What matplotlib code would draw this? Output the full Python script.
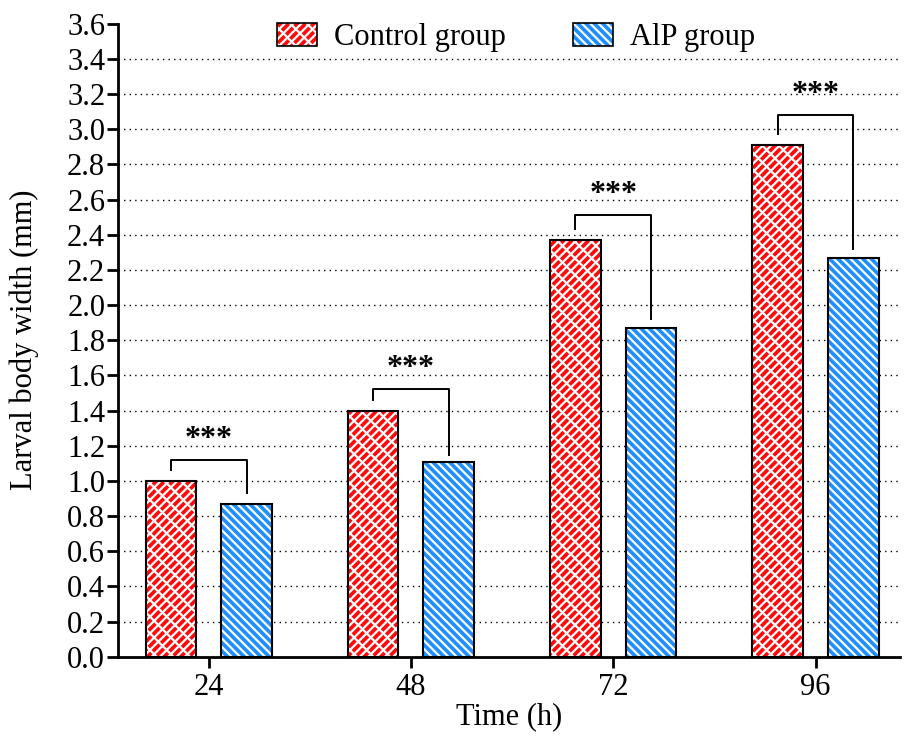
import numpy as np
import matplotlib.pyplot as plt
from matplotlib.patches import Patch

plt.rcParams["font.family"] = ["Liberation Serif", "DejaVu Serif"]
plt.rcParams["hatch.linewidth"] = 1.6

# data
times = ["24", "48", "72", "96"]
control = [1.00, 1.40, 2.37, 2.91]
alp = [0.87, 1.11, 1.87, 2.27]
# brackets: top, left leg end, right leg end
bracket_top = [1.12, 1.52, 2.51, 3.08]
bracket_left = [1.06, 1.46, 2.43, 2.97]
bracket_right = [0.93, 1.15, 1.92, 2.32]
sig = ["***", "***", "***", "***"]

red = "#ff0a0a"
blue = "#1e8fff"

fig, ax = plt.subplots(figsize=(9.05, 7.38), dpi=100)
fig.subplots_adjust(left=0.13, right=0.995, bottom=0.11, top=0.968)

x = np.arange(len(times))
w = 0.25
off = 0.187

yt = np.round(np.arange(0, 3.61, 0.2), 1)
for y in yt[1:-1]:
    ax.axhline(y, color="black", linestyle=(0, (1, 3)), linewidth=1.0, zorder=0)

# control: brick-like white hatch (two overlaid hatches)
ax.bar(x - off, control, w, color=red, edgecolor="white", hatch="////", linewidth=0, zorder=2)
ax.bar(x - off, control, w, color="none", edgecolor="white", hatch="\\\\", linewidth=0, zorder=2)
ax.bar(x - off, control, w, fill=False, edgecolor="black", linewidth=1.5, zorder=3)
# AlP: white diagonal hatch
ax.bar(x + off, alp, w, color=blue, edgecolor="white", hatch="\\\\\\\\", linewidth=0, zorder=2)
ax.bar(x + off, alp, w, fill=False, edgecolor="black", linewidth=1.5, zorder=3)

for i in range(len(times)):
    xl, xr = x[i] - off, x[i] + off
    ax.plot([xl, xl, xr, xr], [bracket_left[i], bracket_top[i], bracket_top[i], bracket_right[i]],
            color="black", linewidth=1.4, zorder=3)
    ax.text(x[i], bracket_top[i] + 0.035, sig[i], ha="center", va="bottom",
            fontsize=23, fontweight="bold")

h_ctrl = (Patch(facecolor=red, edgecolor="white", hatch="////", linewidth=0),
          Patch(facecolor="none", edgecolor="white", hatch="\\\\", linewidth=0),
          Patch(facecolor="none", edgecolor="black", linewidth=1.2))
h_alp = (Patch(facecolor=blue, edgecolor="white", hatch="\\\\\\\\", linewidth=0),
         Patch(facecolor="none", edgecolor="black", linewidth=1.2))
leg = ax.legend([h_ctrl, h_alp], ["Control group", "AlP group"], loc="upper center",
                bbox_to_anchor=(0.509, 1.045), ncol=2, frameon=False, fontsize=22,
                handlelength=1.3, handleheight=0.8, columnspacing=2.2, handletextpad=0.55)

ax.set_xlim(-0.45, 3.42)
ax.set_ylim(0, 3.6)
ax.set_yticks(yt)
ax.set_yticklabels([f"{v:.1f}" for v in yt])
ax.set_xticks(x)
ax.set_xticklabels(times)
ax.tick_params(axis="both", labelsize=22, width=2, length=8, direction="out")
ax.tick_params(axis="y", pad=1)

for s in ["top", "right"]:
    ax.spines[s].set_visible(False)
for s in ["left", "bottom"]:
    ax.spines[s].set_linewidth(2)

ax.set_xlabel("Time (h)", fontsize=22, labelpad=0)
ax.set_ylabel("Larval body width (mm)", fontsize=22, labelpad=20)

fig.savefig("out.png", dpi=100)
